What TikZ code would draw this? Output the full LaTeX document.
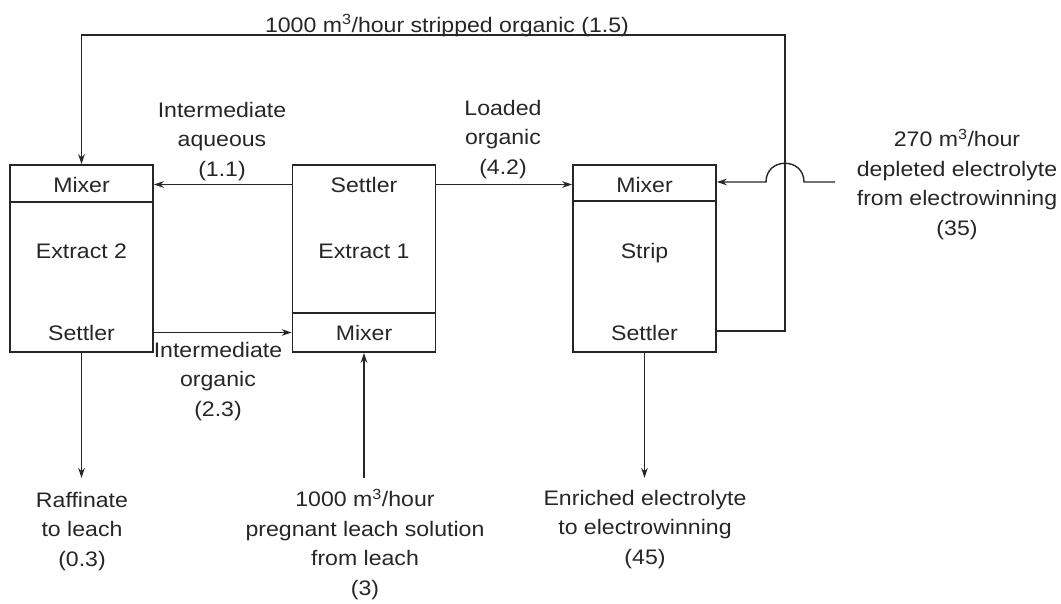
\documentclass[tikz,border=0pt]{standalone}
\usepackage{fontspec}
\setmainfont[FakeStretch=1.1]{Liberation Sans}
\usetikzlibrary{arrows.meta,calc}
\begin{document}
\begin{tikzpicture}[x=1pt,y=-1pt,
  txt/.style={font=\fontsize{21}{29.5}\selectfont, align=center, inner sep=0pt, text=black!85},
  box/.style={draw=black!85, line width=1.6pt, minimum width=143pt, minimum height=187pt, inner sep=0pt},
  ln/.style={draw=black!85, line width=1.4pt},
  arr/.style={ln, -{Stealth[length=10pt,width=6.5pt]}}]
\useasboundingbox (0,0) rectangle (1061,603);

% boxes
\node[box] (e2) at (81.5,258.5) {};
\node[box] (e1) at (364,258.5) {};
\node[box] (st) at (644.5,258.5) {};

% dividers
\draw[ln] (e2.west |- 0,202) -- (e2.east |- 0,202);
\draw[ln] (e1.west |- 0,313) -- (e1.east |- 0,313);
\draw[ln] (st.west |- 0,201) -- (st.east |- 0,201);

% box texts
\node[txt, anchor=base] (e2mix) at (81.5,192) {Mixer};
\node[txt, anchor=base] (e2name) at (81.5,258) {Extract 2};
\node[txt, anchor=base] (e2set) at (81.5,340) {Settler};
\node[txt, anchor=base] (e1set) at (364,192) {Settler};
\node[txt, anchor=base] (e1name) at (364,258) {Extract 1};
\node[txt, anchor=base] (e1mix) at (364,340) {Mixer};
\node[txt, anchor=base] (stmix) at (644.5,192) {Mixer};
\node[txt, anchor=base] (stname) at (644.5,258) {Strip};
\node[txt, anchor=base] (stset) at (644.5,340) {Settler};

% labels
\node[txt, anchor=base] (topl) at (447,32) {1000 m\textsuperscript{3}/hour stripped organic (1.5)};
\node[txt, anchor=north] (iaq) at (222,102) {Intermediate\\aqueous\\(1.1)};
\node[txt, anchor=north] (lorg) at (503,100) {Loaded\\organic\\(4.2)};
\node[txt, anchor=north] (iorg) at (218,342) {Intermediate\\organic\\(2.3)};
\node[txt, anchor=north] (dep) at (957,129) {270 m\textsuperscript{3}/hour\\depleted electrolyte\\from electrowinning\\(35)};
\node[txt, anchor=north] (raf) at (82,492) {Raffinate\\to leach\\(0.3)};
\node[txt, anchor=north] (preg) at (365,489) {1000 m\textsuperscript{3}/hour\\pregnant leach solution\\from leach\\(3)};
\node[txt, anchor=north] (enr) at (645,490) {Enriched electrolyte\\to electrowinning\\(45)};

% connectors between stages
\draw[arr] (e1.west |- e2mix.center) -- (e2.east |- e2mix.center);
\draw[arr] (e2.east |- e2set.center) -- (e1.west |- e2set.center);
\draw[arr] (e1.east |- e1set.center) -- (st.west |- e1set.center);

% stripped organic recycle
\coordinate (rb) at (785,331);
\coordinate (tr) at (785,35);
\coordinate (tl) at (81.5,35);
\draw[arr] (st.east |- rb) -- (rb) -- (tr) -- (tl) -- (e2.north);

% depleted electrolyte with hop-over
\coordinate (depin) at (835,182);
\coordinate (hopr) at (804,182);
\coordinate (hopl) at (766,182);
\draw[arr] (depin) -- (hopr) .. controls (804,157) and (766,157) .. (hopl) -- (st.east |- depin);

% outlets / inlet
\draw[arr, shorten >=14pt] (e2.south) -- (e2.south |- raf.north);
\draw[arr, shorten <=11pt] (e1.south |- preg.north) -- (e1.south);
\draw[arr, shorten >=12pt] (st.south) -- (st.south |- enr.north);
\end{tikzpicture}
\end{document}
